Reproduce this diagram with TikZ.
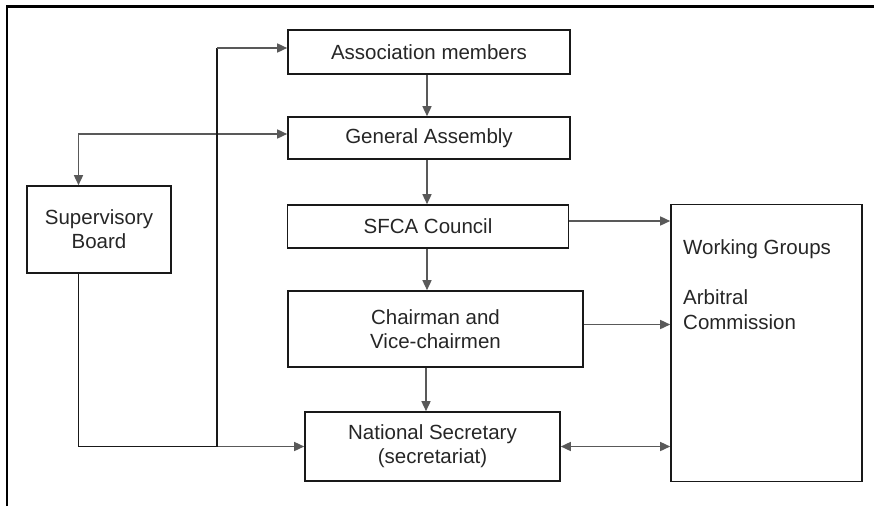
\documentclass[tikz,border=0pt]{standalone}
\usepackage{fontspec}
\setmainfont{Liberation Sans}
\usetikzlibrary{arrows.meta,calc}
\begin{document}
\begin{tikzpicture}[x=1pt,y=-1pt,
  box/.style={draw=black!90,line width=1.6pt,rectangle,inner sep=0pt,align=center,
    font=\fontsize{20.5}{24}\selectfont,text=black!85},
  lbl/.style={inner sep=0pt,align=left,font=\fontsize{20.5}{25}\selectfont,text=black!85},
  conn/.style={draw=black!65,line width=1.5pt,-{Triangle[length=10pt,width=9pt]}},
  dconn/.style={draw=black!65,line width=1.5pt,{Triangle[length=10pt,width=9pt]}-{Triangle[length=10pt,width=9pt]}},
  trunk/.style={draw=black!90,line width=1.6pt},
  frame/.style={draw=black,line width=2.6pt}]
\useasboundingbox (0,0) rectangle (874,506);
% frame
\coordinate (fbl) at (7,506);
\coordinate (ftl) at (7,6.7);
\coordinate (ftr) at (874,6.7);
\draw[frame] (fbl) -- (ftl) -- (ftr);
% boxes
\node[box,minimum width=282pt,minimum height=44pt] (am) at (429,52) {Association members};
\node[box,minimum width=282pt,minimum height=42pt] (ga) at (429,138) {General Assembly};
\node[box,minimum width=281pt,minimum height=43pt] (sfca) at (428,226.5) {SFCA Council};
\node[box,minimum width=295pt,minimum height=76pt] (ch) at (435.5,329) {Chairman and\\Vice-chairmen};
\node[box,minimum width=255pt,minimum height=69pt] (ns) at (432.5,446.5) {\raisebox{3pt}{\shortstack{National Secretary\\[2pt](secretariat)}}};
\node[box,minimum width=144pt,minimum height=87pt] (sb) at (99,229.5) {Supervisory\\Board};
\node[box,minimum width=191pt,minimum height=277pt] (wg) at (766.5,343) {};
\node[lbl,anchor=north west] (wgt) at (683,239.5) {Working Groups\\[25pt]Arbitral\\Commission};
% helper coordinates
\coordinate (spine) at (427,0);
\coordinate (spine2) at (426,0);
\coordinate (trk) at (217,0);
\coordinate (sbx) at (78.5,0);
\coordinate (yam) at (0,48);
\coordinate (yga) at (0,134);
\coordinate (ysf) at (0,221);
\coordinate (ych) at (0,324.5);
% vertical chain
\draw[conn] (am.south -| spine) -- (ga.north -| spine);
\draw[conn] (ga.south -| spine) -- (sfca.north -| spine);
\draw[conn] (sfca.south -| spine) -- (ch.north -| spine);
\draw[conn] (ch.south -| spine2) -- (ns.north -| spine2);
% to working groups
\draw[conn] (sfca.east |- ysf) -- (wg.west |- ysf);
\draw[conn] (ch.east |- ych) -- (wg.west |- ych);
\draw[dconn] (ns.east) -- (wg.west |- ns.east);
% general assembly <-> supervisory board
\draw[dconn] (sb.north -| sbx) |- (ga.west |- yga);
% supervisory board -> national secretary
\draw[trunk] (sb.south -| sbx) |- (trk |- ns.west);
\draw[conn] (trk |- ns.west) -- (ns.west);
% trunk up to association members
\draw[trunk] (trk |- ns.west) -- (trk |- yam);
\draw[conn] (trk |- yam) -- (am.west |- yam);
\end{tikzpicture}
\end{document}
